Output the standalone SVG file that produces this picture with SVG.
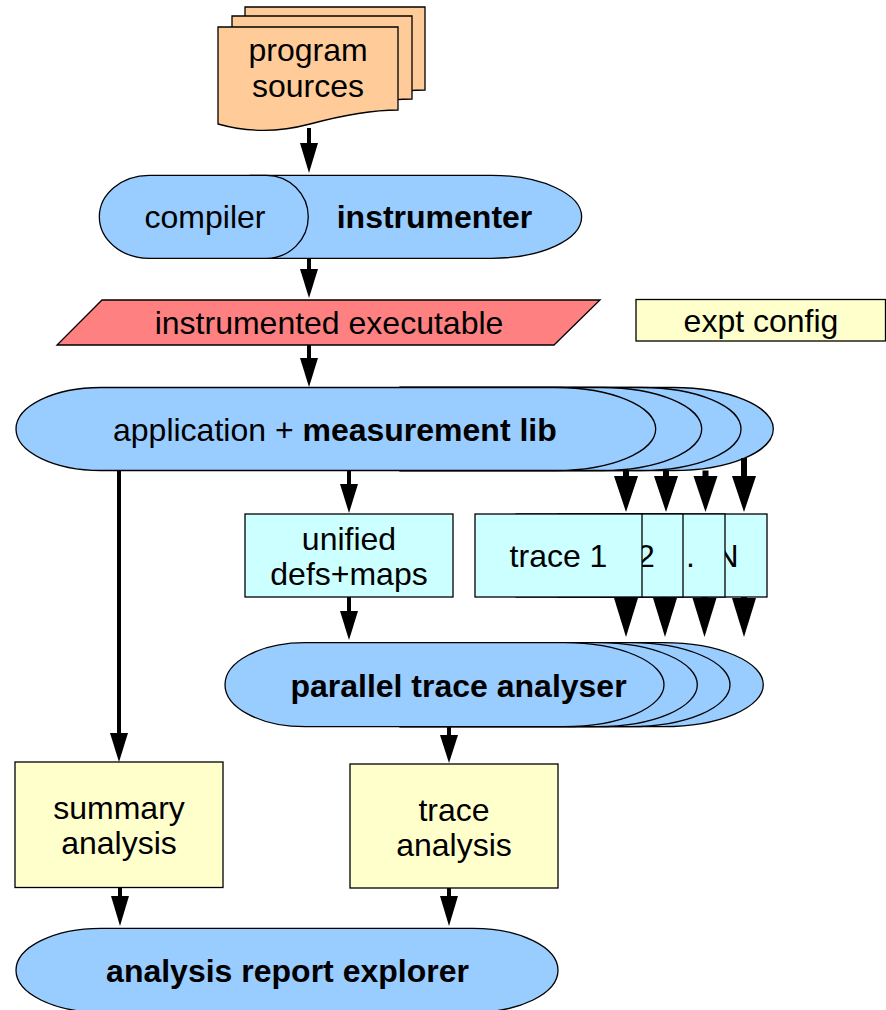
<svg xmlns="http://www.w3.org/2000/svg" width="886" height="1010" viewBox="0 0 886 1010">
<style>
.sh{stroke:#000;stroke-width:1.3}
.blue{fill:#99ccff}
.doc{fill:#ffcc99}
.exe{fill:#ff8080}
.yel{fill:#ffffcc}
.cyan{fill:#ccffff}
text{font-family:"Liberation Sans",Arial,sans-serif;font-size:32px;fill:#000}
.b{font-weight:bold}
.c{text-anchor:middle}
.ln{stroke:#000;stroke-width:4;fill:none}
.lt{stroke:#000;stroke-width:6;fill:none}
.hd{fill:#000}
</style>
<defs>
<path id="docshape" d="M218,27 H398 V110 C370,110 340,116 310,124 C280,132 250,133 218,124 Z"/>
</defs>
<rect width="886" height="1010" fill="#fff"/>

<g id="program-sources">
<use href="#docshape" class="sh doc" transform="translate(27,-20)"/>
<use href="#docshape" class="sh doc" transform="translate(14,-11)"/>
<use href="#docshape" class="sh doc"/>
<text class="c" x="308" y="61">program</text>
<text class="c" x="308" y="97">sources</text>
</g>

<g id="instrumenter">
<path class="sh blue" d="M250,175.3 H491.7 A90,41.5 0 0 1 491.7,258.3 H250 Z"/>
<text class="c b" x="434.5" y="228">instrumenter</text>
</g>
<g id="compiler">
<path class="sh blue" d="M149.3,175.3 H266.3 A42,41.5 0 0 1 266.3,258.3 H149.3 A50,41.5 0 0 1 149.3,175.3 Z"/>
<text class="c" x="205" y="228">compiler</text>
</g>

<g id="instrumented-executable">
<polygon class="sh exe" points="102,300 600,300 554,345 57,345"/>
<text class="c" x="329" y="334">instrumented executable</text>
</g>

<g id="expt-config">
<rect class="sh yel" x="636" y="299.5" width="249.5" height="41.5"/>
<text class="c" x="761" y="332">expt config</text>
</g>

<g id="application">
<path class="sh blue" d="M400,387.5 H673.3 A100,41.5 0 0 1 673.3,470.5 H400 Z"/>
<path class="sh blue" d="M400,387.5 H641 A100,41.5 0 0 1 641,470.5 H400 Z"/>
<path class="sh blue" d="M400,387.5 H601.7 A100,41.5 0 0 1 601.7,470.5 H400 Z"/>
<path class="sh blue" d="M101,387.5 H555.7 A100,41.5 0 0 1 555.7,470.5 H101 A85,41.5 0 0 1 101,387.5 Z"/>
<text x="113" y="441">application + <tspan class="b">measurement lib</tspan></text>
</g>

<g id="unified-defs-maps">
<rect class="sh cyan" x="245" y="514" width="208" height="83"/>
<text class="c" x="349" y="550">unified</text>
<text class="c" x="349" y="585">defs+maps</text>
</g>

<g id="trace-N">
<rect class="sh cyan" x="600" y="514" width="167" height="83"/>
<text x="715.5" y="567">N</text>
</g>
<g id="trace-dots">
<rect class="sh cyan" x="558" y="514" width="167" height="83"/>
<text x="686" y="567">.</text>
</g>
<g id="trace-2">
<rect class="sh cyan" x="516" y="514" width="167" height="83"/>
<text x="637" y="567">2</text>
</g>
<g id="trace-1">
<rect class="sh cyan" x="475" y="514" width="167" height="83"/>
<text class="c" x="558.5" y="567">trace 1</text>
</g>

<g id="parallel-trace-analyser">
<path class="sh blue" d="M400,642.7 H663.3 A100,42 0 0 1 663.3,726.7 H400 Z"/>
<path class="sh blue" d="M400,642.7 H630 A100,42 0 0 1 630,726.7 H400 Z"/>
<path class="sh blue" d="M400,642.7 H597.3 A100,42 0 0 1 597.3,726.7 H400 Z"/>
<path class="sh blue" d="M305,642.7 H564 A100,42 0 0 1 564,726.7 H305 A80,42 0 0 1 305,642.7 Z"/>
<text class="c b" x="458.5" y="697">parallel trace analyser</text>
</g>

<g id="summary-analysis">
<rect class="sh yel" x="15" y="762" width="208" height="125.5"/>
<text class="c" x="119" y="819">summary</text>
<text class="c" x="119" y="854">analysis</text>
</g>

<g id="trace-analysis">
<rect class="sh yel" x="350" y="764" width="208" height="124"/>
<text class="c" x="454" y="821">trace</text>
<text class="c" x="454" y="856">analysis</text>
</g>

<g id="analysis-report-explorer">
<path class="sh blue" d="M101,928.3 H473 A85,42 0 0 1 473,1012.3 H101 A85,42 0 0 1 101,928.3 Z"/>
<text class="c b" x="287.5" y="982">analysis report explorer</text>
</g>

<g id="connectors">
<path class="ln" d="M309,128 V146"/><polygon class="hd" points="300,143 318,143 309,173"/>
<path class="ln" d="M309,258.3 V272"/><polygon class="hd" points="300,269 318,269 309,298"/>
<path class="ln" d="M309,345 V361"/><polygon class="hd" points="300,358 318,358 309,387"/>
<path class="ln" d="M119,470.5 V736"/><polygon class="hd" points="110,733 128,733 119,762"/>
<path class="ln" d="M349,470.5 V487"/><polygon class="hd" points="340,484 358,484 349,513"/>
<path class="lt" d="M626,470.5 V479"/><polygon class="hd" points="614,476 638,476 626,512"/>
<path class="lt" d="M666,470.5 V479"/><polygon class="hd" points="654,476 678,476 666,512"/>
<path class="lt" d="M705.5,470.5 V479"/><polygon class="hd" points="693.5,476 717.5,476 705.5,512"/>
<path class="lt" d="M744,458 V479"/><polygon class="hd" points="732,476 756,476 744,512"/>
<path class="lt" d="M626,597 V601"/><polygon class="hd" points="614,598 638,598 626,637"/>
<path class="lt" d="M665,597 V601"/><polygon class="hd" points="653,598 677,598 665,637"/>
<path class="lt" d="M704.5,597 V601"/><polygon class="hd" points="692.5,598 716.5,598 704.5,637"/>
<path class="lt" d="M744,597 V601"/><polygon class="hd" points="732,598 756,598 744,637"/>
<path class="ln" d="M349,597 V614"/><polygon class="hd" points="340,611 358,611 349,640"/>
<path class="ln" d="M449,726.7 V738"/><polygon class="hd" points="440,735 458,735 449,763"/>
<path class="ln" d="M120,887.5 V899"/><polygon class="hd" points="111,896 129,896 120,926"/>
<path class="ln" d="M449,888 V899"/><polygon class="hd" points="440,896 458,896 449,926"/>
</g>
</svg>
